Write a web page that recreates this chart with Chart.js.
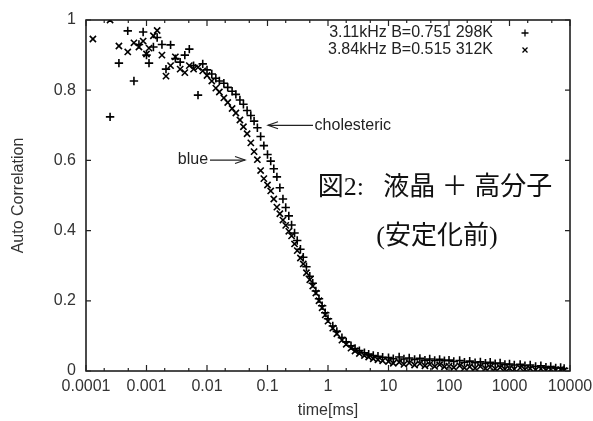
<!DOCTYPE html>
<html><head><meta charset="utf-8">
<script src="https://cdn.jsdelivr.net/npm/chart.js@4.4.0/dist/chart.umd.min.js"></script>
<style>html,body{margin:0;padding:0;background:#fff;}#wrap{width:593px;height:421px;}</style>
</head><body><div id="wrap"><canvas id="c" width="593" height="421"></canvas></div>
<script>
// ---- data ----
const times = [
  0.00013, 0.00018, 0.00025, 0.00035, 0.00049, 0.00062, 0.00075, 0.00088,
  0.001, 0.0011, 0.0013, 0.0015, 0.0018, 0.0021, 0.0025, 0.003, 0.0036, 0.0043, 0.0051, 0.006, 0.0071, 0.0085,
  0.01, 0.012, 0.014, 0.016, 0.019, 0.022, 0.026, 0.03, 0.035, 0.04, 0.046, 0.053, 0.06, 0.068, 0.077, 0.087,
  0.1, 0.113, 0.127, 0.143, 0.16, 0.18, 0.2, 0.225, 0.25, 0.28, 0.31, 0.35, 0.39, 0.44, 0.5, 0.56, 0.63, 0.71, 0.8, 0.9,
  1, 1.2, 1.4, 1.7, 2, 2.4, 2.8, 3.3, 4, 4.7, 5.6, 6.7, 8,
  10, 12, 15, 18, 22, 27, 33, 40, 48, 58, 70, 84,
  100, 120, 150, 180, 220, 270, 330, 400, 480, 580, 700, 840,
  1000, 1200, 1500, 1800, 2200, 2700, 3300, 4000, 4800, 5800, 7000, 8000
];
// 3.11kHz (+, cholesteric)
const cholesteric = [
  null, null, 0.724, 0.877, 0.969, 0.826, 0.93, 0.966,
  0.90, 0.877, 0.923, 0.95, 0.93, 0.86, 0.929, 0.89, 0.88, 0.90, 0.917, 0.87, 0.786, 0.875,
  0.858, 0.846, 0.834, 0.826, 0.82, 0.808, 0.797, 0.788, 0.772, 0.76, 0.742, 0.728, 0.712, 0.693, 0.668, 0.642,
  0.617, 0.598, 0.576, 0.553, 0.522, 0.49, 0.466, 0.442, 0.416, 0.393, 0.372, 0.347, 0.324, 0.297, 0.27, 0.25, 0.228, 0.206, 0.186, 0.166,
  0.149, 0.128, 0.113, 0.095, 0.083, 0.072, 0.064, 0.058, 0.052, 0.048, 0.044, 0.042, 0.039,
  0.038, 0.035, 0.04, 0.034, 0.037, 0.033, 0.036, 0.031, 0.034, 0.03, 0.033, 0.029,
  0.031, 0.027, 0.03, 0.025, 0.028, 0.024, 0.026, 0.022, 0.025, 0.021, 0.023, 0.019,
  0.02, 0.017, 0.019, 0.015, 0.017, 0.013, 0.015, 0.011, 0.013, 0.009, 0.01, 0.007
];
// 3.84kHz (x, blue)
const blue = [
  0.946, null, 1.0, 0.926, 0.909, 0.935, 0.923, 0.94,
  0.903, 0.92, 0.955, 0.97, 0.90, 0.84, 0.87, 0.895, 0.86, 0.85, 0.87, 0.86, 0.865, 0.855,
  0.842, 0.826, 0.806, 0.795, 0.778, 0.765, 0.748, 0.735, 0.715, 0.696, 0.676, 0.65, 0.625, 0.602, 0.571, 0.548,
  0.53, 0.513, 0.49, 0.467, 0.448, 0.43, 0.415, 0.398, 0.385, 0.362, 0.343, 0.322, 0.305, 0.28, 0.26, 0.242, 0.222, 0.2, 0.18, 0.16,
  0.142, 0.122, 0.106, 0.088, 0.076, 0.065, 0.057, 0.05, 0.044, 0.04, 0.035, 0.032, 0.029,
  0.027, 0.022, 0.025, 0.019, 0.023, 0.017, 0.021, 0.015, 0.019, 0.013, 0.018, 0.012,
  0.014, 0.01, 0.015, 0.009, 0.012, 0.008, 0.013, 0.007, 0.011, 0.006, 0.01, 0.005,
  0.008, 0.005, 0.009, 0.004, 0.007, 0.003, 0.006, 0.002, 0.005, 0.002, 0.004, 0.001
];
const seriesLabels = ['3.11kHz B=0.751 298K', '3.84kHz B=0.515 312K'];
const xTickValues = [0.0001, 0.001, 0.01, 0.1, 1, 10, 100, 1000, 10000];
const xTickLabels = ['0.0001', '0.001', '0.01', '0.1', '1', '10', '100', '1000', '10000'];
const xMinorFactors = [2, 5];
const yTickValues = [0, 0.2, 0.4, 0.6, 0.8, 1];
const yTickLabels = ['0', '0.2', '0.4', '0.6', '0.8', '1'];
const xTitle = 'time[ms]';
const yTitle = 'Auto Correlation';
const figTitle1 = '図2:   液晶 ＋ 高分子';
const figTitle2 = '(安定化前)';
// annotation anchors (data coordinates)
const cholAnno = {text: 'cholesteric', tip: [0.102, 0.70], tail: [0.565, 0.70], textAt: [0.6, 0.70]};
const blueAnno = {text: 'blue', tip: [0.0425, 0.601], tail: [0.0112, 0.601], textAt: [0.0104, 0.601]};

// ---- chart ----
const toPoints = vals => times.map((t, i) => ({x: t, y: vals[i]})).filter(p => p.y !== null);
const LABEL_FONT = "'Liberation Sans', Arial, sans-serif";

function arrow(ctx, x1, y1, x2, y2) {
  ctx.beginPath(); ctx.moveTo(x1, y1); ctx.lineTo(x2, y2); ctx.stroke();
  const dir = Math.sign(x2 - x1);
  ctx.beginPath();
  ctx.moveTo(x2 - dir * 10, y2 - 3.5); ctx.lineTo(x2, y2); ctx.lineTo(x2 - dir * 10, y2 + 3.5);
  ctx.stroke();
}

const decor = {
  id: 'decor',
  afterDraw(chart) {
    const {ctx, chartArea: a, scales: {x, y}} = chart;
    ctx.save();
    ctx.strokeStyle = '#111'; ctx.lineWidth = 1.5;
    ctx.strokeRect(a.left, a.top, a.right - a.left, a.bottom - a.top);
    ctx.lineWidth = 1.2; ctx.strokeStyle = '#222';
    ctx.beginPath();
    xTickValues.forEach((v, i) => {
      const px = x.getPixelForValue(v);
      ctx.moveTo(px, a.bottom); ctx.lineTo(px, a.bottom - 6);
      ctx.moveTo(px, a.top); ctx.lineTo(px, a.top + 6);
      if (i < xTickValues.length - 1) {
        xMinorFactors.forEach(f => {
          const pm = x.getPixelForValue(v * f);
          ctx.moveTo(pm, a.bottom); ctx.lineTo(pm, a.bottom - 3);
          ctx.moveTo(pm, a.top); ctx.lineTo(pm, a.top + 3);
        });
      }
    });
    yTickValues.forEach(v => {
      const py = y.getPixelForValue(v);
      ctx.moveTo(a.left, py); ctx.lineTo(a.left + 5, py);
      ctx.moveTo(a.right, py); ctx.lineTo(a.right - 5, py);
    });
    ctx.stroke();
    // legend
    ctx.fillStyle = '#222';
    ctx.font = '16px ' + LABEL_FONT;
    ctx.textAlign = 'right'; ctx.textBaseline = 'middle';
    const lx = a.right - 77, mx = a.right - 45;
    const ly1 = a.top + 13, ly2 = a.top + 30;
    ctx.fillText(seriesLabels[0], lx, ly1);
    ctx.fillText(seriesLabels[1], lx, ly2);
    ctx.strokeStyle = '#000'; ctx.lineWidth = 1.3;
    ctx.beginPath();
    ctx.moveTo(mx - 3.5, ly1); ctx.lineTo(mx + 3.5, ly1);
    ctx.moveTo(mx, ly1 - 3.5); ctx.lineTo(mx, ly1 + 3.5);
    ctx.moveTo(mx - 2.5, ly2 - 2.5); ctx.lineTo(mx + 2.5, ly2 + 2.5);
    ctx.moveTo(mx - 2.5, ly2 + 2.5); ctx.lineTo(mx + 2.5, ly2 - 2.5);
    ctx.stroke();
    // annotations
    ctx.strokeStyle = '#222'; ctx.lineWidth = 1.2;
    [cholAnno, blueAnno].forEach(an => {
      arrow(ctx, x.getPixelForValue(an.tail[0]), y.getPixelForValue(an.tail[1]),
                 x.getPixelForValue(an.tip[0]), y.getPixelForValue(an.tip[1]));
    });
    ctx.textAlign = 'left';
    ctx.fillText(cholAnno.text, x.getPixelForValue(cholAnno.textAt[0]), y.getPixelForValue(cholAnno.textAt[1]));
    ctx.textAlign = 'right';
    ctx.fillText(blueAnno.text, x.getPixelForValue(blueAnno.textAt[0]), y.getPixelForValue(blueAnno.textAt[1]));
    // figure caption
    ctx.fillStyle = '#111';
    ctx.font = "26px 'Liberation Serif', 'Noto Sans CJK JP', serif";
    ctx.textAlign = 'center';
    ctx.fillText(figTitle1, 435, 188);
    ctx.fillText(figTitle2, 437, 237);
    ctx.restore();
  }
};

new Chart(document.getElementById('c'), {
  type: 'scatter',
  data: {
    datasets: [
      {label: seriesLabels[0], data: toPoints(cholesteric), pointStyle: 'cross', radius: 4.2,
       borderColor: '#000', backgroundColor: '#000', borderWidth: 1.6, hoverRadius: 4.2},
      {label: seriesLabels[1], data: toPoints(blue), pointStyle: 'crossRot', radius: 4.4,
       borderColor: '#000', backgroundColor: '#000', borderWidth: 1.6, hoverRadius: 4.4}
    ]
  },
  options: {
    responsive: false, animation: false, devicePixelRatio: 1,
    layout: {padding: {top: 20, right: 23, left: 0, bottom: 0}},
    plugins: {legend: {display: false}, tooltip: {enabled: false}},
    events: [],
    scales: {
      x: {
        type: 'logarithmic', min: 0.0001, max: 10000,
        grid: {display: false, drawTicks: false}, border: {display: false},
        afterBuildTicks: s => { s.ticks = xTickValues.map(v => ({value: v})); },
        afterFit: s => { s.height = 50; s.paddingLeft = 0; s.paddingRight = 0; },
        ticks: {autoSkip: false, maxRotation: 0, minRotation: 0, padding: 6, color: '#333',
                font: {family: LABEL_FONT, size: 16},
                callback: (v, i) => xTickLabels[i]},
        title: {display: true, text: xTitle, color: '#333', font: {family: LABEL_FONT, size: 16},
                padding: {top: 0, bottom: 1}}
      },
      y: {
        type: 'linear', min: 0, max: 1,
        grid: {display: false, drawTicks: false}, border: {display: false},
        afterBuildTicks: s => { s.ticks = yTickValues.map(v => ({value: v})); },
        afterFit: s => { s.width = 86; s.paddingTop = 0; s.paddingBottom = 0; },
        ticks: {autoSkip: false, padding: 10, color: '#333',
                font: {family: LABEL_FONT, size: 16},
                callback: (v, i) => yTickLabels[i]},
        title: {display: true, text: yTitle, color: '#333', font: {family: LABEL_FONT, size: 16},
                padding: {top: 9, bottom: 0}}
      }
    }
  },
  plugins: [decor]
});
</script>
</body></html>
